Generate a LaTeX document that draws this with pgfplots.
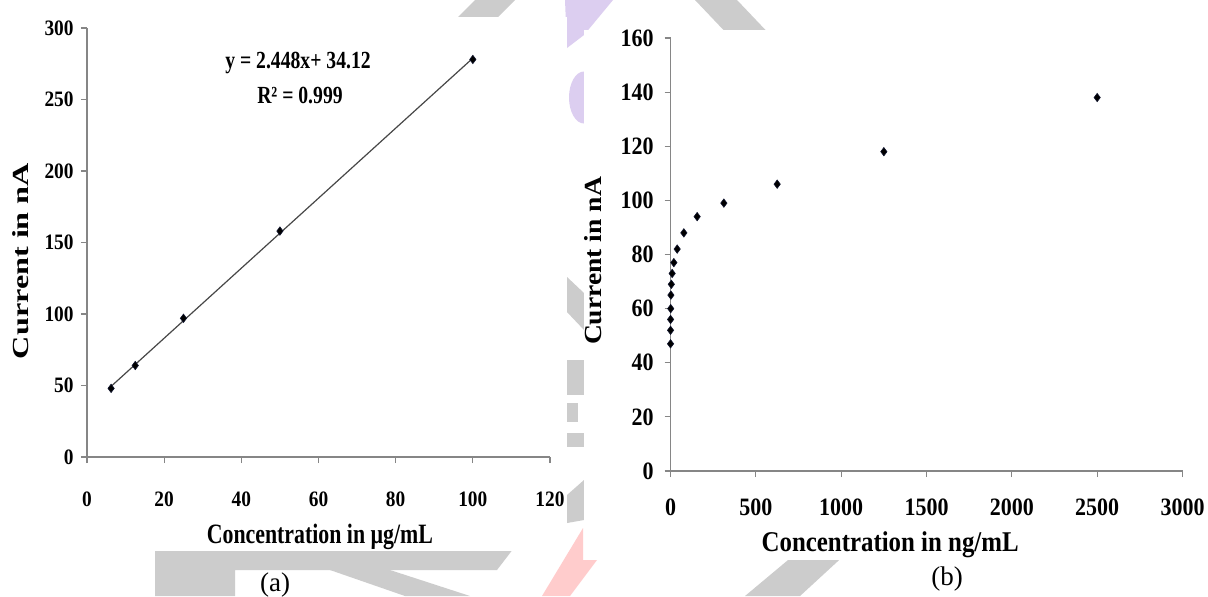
\documentclass[border=0pt]{standalone}
\usepackage{fontspec}
\setmainfont{Liberation Serif}
\newfontfamily\tk{Liberation Serif}[FakeStretch=0.88]
\newfontfamily\xlA{Liberation Serif}[FakeStretch=0.78]
\newfontfamily\xlB{Liberation Serif}[FakeStretch=0.87]
\newfontfamily\ylA{Liberation Serif}[FakeStretch=1.4]
\newfontfamily\ylB{Liberation Serif}[FakeStretch=1.12]
\newfontfamily\eqf{Liberation Serif}[FakeStretch=0.8]
\usepackage{pgfplots}
\pgfplotsset{compat=1.18}
\definecolor{axgray}{RGB}{134,134,134}
\definecolor{wmgray}{RGB}{204,204,204}
\definecolor{wmpurple}{RGB}{220,206,240}
\definecolor{wmpink}{RGB}{255,204,204}
\definecolor{mk}{RGB}{15,20,45}

\pgfplotstableread{
x y
6.25 48
12.5 64
25 97
50 158
100 278
}\dataA

\pgfplotstableread{
x y
6.25 49.42
100 278.92
}\fitA

\pgfplotstableread{
x y
0.153 47
0.305 52
0.61 56
1.22 60
2.44 65
4.88 69
9.77 73
19.53 77
39.06 82
78.125 88
156.25 94
312.5 99
625 106
1250 118
2500 138
}\dataB

\pgfplotsset{common/.style={
  scale only axis,
  axis lines*=left,
  axis line style={draw=axgray, line width=0.6pt, -},
  tick style={draw=axgray, line width=0.6pt},
  tick align=outside,
  major tick length=3pt,
  clip=false,
  /pgf/number format/assume math mode=true,
  /pgf/number format/1000 sep={},
  yticklabel style={anchor=east, inner sep=0pt},
  xticklabel style={anchor=center, inner sep=0pt},
}}

\begin{document}
\begin{tikzpicture}
\begin{scope}[x=0.5pt,y=-0.5pt]
\path[use as bounding box] (0,0) rectangle (1208,596);
\fill[white] (0,0) rectangle (1208,596);
% watermark shapes
\fill[wmgray] (445,30) -- (475,0) -- (515,0) -- (485,30) -- cycle;
\fill[wmgray] (695,0) -- (737,0) -- (775,40) -- (733,40) -- cycle;
\fill[wmpurple] (565,0) -- (613,0) -- (584,35) -- (567,48) -- cycle;
\fill[wmpurple] (584,97.5) ellipse [x radius=15, y radius=26];
\fill[wmgray] (567,277) -- (584,293) -- (584,330) -- (567,312) -- cycle;
\fill[wmgray] (567,360) rectangle (584,395);
\fill[wmgray] (567,403) rectangle (578,422);
\fill[wmgray] (567,433) rectangle (584,447);
\fill[wmgray] (567,495) -- (584,480) -- (584,520) -- (567,523) -- cycle;
\fill[wmpink] (583,528) -- (583,560) -- (597,560) -- (570,596) -- (542,596) -- cycle;
\fill[wmgray] (155,540) -- (520,540) -- (497,570) -- (235,570) -- (235,596) -- (155,596) -- cycle;
\fill[wmgray] (330,570) -- (390,570) -- (470,596) -- (405,596) -- cycle;
\fill[wmgray] (800,550) -- (850,550) -- (800,596) -- (745,596) -- cycle;
% chart boxes
\fill[white] (0,17) rectangle (567,551);
\fill[white] (584,30) rectangle (1208,560);
% sub captions
\node[anchor=base, inner sep=0pt, font=\fontsize{13.5}{14}\selectfont] at (275,591) {(a)};
\node[anchor=base, inner sep=0pt, font=\fontsize{13.5}{14}\selectfont] at (947,585) {(b)};
\end{scope}

\begin{axis}[common,
  at={(43.5pt,-228.5pt)}, anchor=south west,
  width=231.5pt, height=214.5pt,
  xmin=0, xmax=120, ymin=0, ymax=300,
  xtick={0,20,...,120}, ytick={0,50,...,300},
  ticklabel style={font=\tk\bfseries\fontsize{11}{12}\selectfont},
  yticklabel style={xshift=-3.5pt},
  xticklabel style={yshift=-18pt},
  xlabel={\xlA\bfseries\fontsize{14}{14}\selectfont Concentration in µg/mL},
  xlabel style={at={(axis description cs:0.503,-0.185)}, anchor=center, inner sep=0pt},
  ylabel={\ylA\bfseries\fontsize{11.5}{12}\selectfont Current in nA},
  ylabel style={at={(axis description cs:-0.1425,0.457)}, anchor=center, inner sep=0pt},
]
\addplot[draw=black!72, line width=0.6pt, no marks] table[x=x,y=y] {\fitA};
\addplot[only marks, mark=diamond*, mark size=2.1pt, mark options={fill=black, draw=mk, line width=0.3pt}] table[x=x,y=y] {\dataA};
\node[font=\eqf\bfseries\fontsize{12.3}{13}\selectfont, inner sep=0pt] at (axis cs:54.7,275.5) {y = 2.448x+ 34.12};
\node[font=\eqf\bfseries\fontsize{12.3}{13}\selectfont, inner sep=0pt] at (axis cs:55.2,253) {R² = 0.999};
\end{axis}

\begin{axis}[common,
  at={(335.25pt,-235.5pt)}, anchor=south west,
  width=256pt, height=216.5pt,
  xmin=0, xmax=3000, ymin=0, ymax=160,
  xtick={0,500,...,3000}, ytick={0,20,...,160},
  ticklabel style={font=\tk\bfseries\fontsize{12.5}{13}\selectfont},
  yticklabel style={xshift=-5.25pt},
  xticklabel style={yshift=-15pt},
  xlabel={\xlB\bfseries\fontsize{14.3}{15}\selectfont Concentration in ng/mL},
  xlabel style={at={(axis description cs:0.429,-0.171)}, anchor=center, inner sep=0pt},
  ylabel={\ylB\bfseries\fontsize{12.3}{13}\selectfont Current in nA},
  ylabel style={at={(axis description cs:-0.151,0.485)}, anchor=center, inner sep=0pt},
]
\addplot[only marks, mark=diamond*, mark size=2.1pt, mark options={fill=black, draw=mk, line width=0.3pt}] table[x=x,y=y] {\dataB};
\end{axis}
\end{tikzpicture}
\end{document}
